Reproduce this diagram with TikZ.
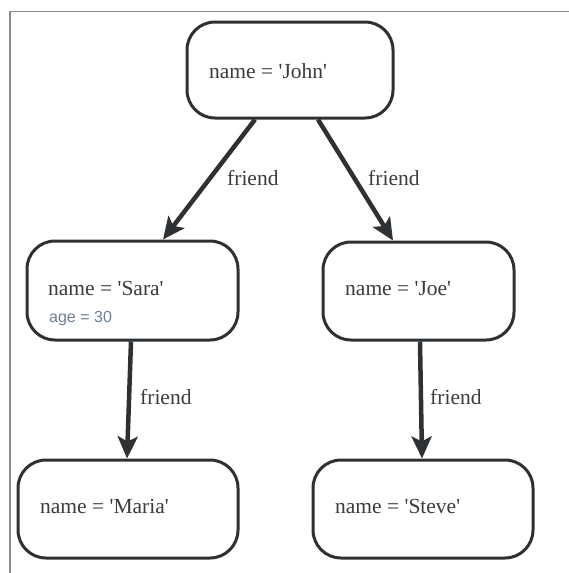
\documentclass[tikz,border=0pt]{standalone}
\usepackage{fontspec}
\setmainfont{Liberation Serif}
\setsansfont{Liberation Sans}
\usetikzlibrary{arrows.meta,calc}
\definecolor{ink}{RGB}{45,49,52}
\definecolor{txt}{RGB}{60,60,60}
\definecolor{agec}{RGB}{112,126,146}
\definecolor{frame}{RGB}{140,140,140}
\newcommand{\sq}{\textquotesingle}
\tikzset{
  person/.style={draw=ink, line width=3pt, rounded corners=28pt, fill=white, inner sep=0pt},
  nametext/.style={anchor=base west, inner sep=0pt, text=txt, font=\fontsize{21.5}{24}\selectfont},
  agetext/.style={anchor=base west, inner sep=0pt, text=agec, font=\sffamily\fontsize{16}{18}\selectfont},
  rel/.style={draw=ink, line width=4.5pt, -{Stealth[length=22pt,width=20pt,inset=5pt]}},
  rellabel/.style={anchor=base west, inner sep=0pt, text=txt, font=\fontsize{21.5}{24}\selectfont},
}
\begin{document}
\begin{tikzpicture}[x=1pt,y=-1pt]
\useasboundingbox (0,0) rectangle (569,573);
\draw[frame, line width=1.5pt] (10,573) -- (10,11.5) -- (569,11.5);
% boxes
\node[person, minimum width=206pt, minimum height=96pt] (john) at (290,70) {};
\node[person, minimum width=211pt, minimum height=99pt] (sara) at (132.5,290.5) {};
\node[person, minimum width=191pt, minimum height=98pt] (joe) at (418.5,291) {};
\node[person, minimum width=220pt, minimum height=98pt] (maria) at (128,509) {};
\node[person, minimum width=220pt, minimum height=98pt] (steve) at (423,509) {};
% texts
\node[nametext] (tjohn) at (209,78) {name = \sq John\sq};
\node[nametext] (tsara) at (48,295) {name = \sq Sara\sq};
\node[agetext] (tage) at (49,322) {age = 30};
\node[nametext] (tjoe) at (345,295) {name = \sq Joe\sq};
\node[nametext] (tmaria) at (40,513) {name = \sq Maria\sq};
\node[nametext] (tsteve) at (335,513) {name = \sq Steve\sq};
% connectors
\draw[rel] ([xshift=-35pt]john.south) -- ([xshift=30.5pt]sara.north);
\draw[rel] ([xshift=28pt]john.south) -- ([xshift=-25.5pt]joe.north);
\draw[rel] ([xshift=-1.5pt]sara.south) -- ([xshift=-1pt]maria.north);
\draw[rel] ([xshift=1.5pt]joe.south) -- ([xshift=-1pt]steve.north);
% labels
\node[rellabel] (l1) at (227,185) {friend};
\node[rellabel] (l2) at (368,185) {friend};
\node[rellabel] (l3) at (140,404) {friend};
\node[rellabel] (l4) at (430,404) {friend};
\end{tikzpicture}
\end{document}
